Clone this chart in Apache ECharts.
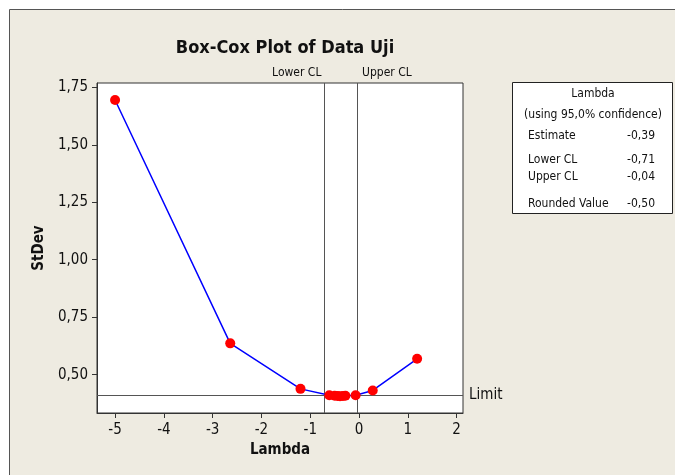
<!DOCTYPE html>
<html>
<head>
<meta charset="utf-8">
<script src="https://cdn.jsdelivr.net/npm/echarts@6/dist/echarts.min.js"></script>
<style>
  html, body { margin: 0; padding: 0; background: #fff; }
  #main { width: 675px; height: 475px; }
</style>
</head>
<body>
<div id="main"></div>
<script>
// values
var lambdaVals = [-5, -2.64, -1.2, -0.61, -0.5, -0.44, -0.39, -0.33, -0.28, -0.07, 0.28, 1.19];
var stdevVals = [1.695, 0.636, 0.438, 0.410, 0.408, 0.407, 0.406, 0.407, 0.408, 0.410, 0.431, 0.569];
var xTicks = [-5, -4, -3, -2, -1, 0, 1, 2];
var yTicks = [0.5, 0.75, 1.0, 1.25, 1.5, 1.75];
var lowerCL = -0.71;
var upperCL = -0.04;
var limit = 0.409;
var infoLabels = ['Estimate', 'Lower CL', 'Upper CL', 'Rounded Value'];
var infoValues = ['-0,39', '-0,71', '-0,04', '-0,50'];

var font = "'DejaVu Sans Condensed', 'DejaVu Sans', sans-serif";

var chart = echarts.init(document.getElementById('main'));

var points = lambdaVals.map(function (x, i) { return [x, stdevVals[i]]; });

function fmtComma(v) {
  return v.toFixed(2).replace('.', ',');
}

var infoY = [136, 160, 177, 204];
var graphics = [
  { type: 'rect', z: -10, shape: { x: 9.5, y: 9.5, width: 700, height: 500 },
    style: { fill: '#EEEBE1', stroke: '#555', lineWidth: 1 } },
  { type: 'rect', z: 1, shape: { x: 512.5, y: 82.5, width: 160, height: 131 },
    style: { fill: '#fff', stroke: '#222', lineWidth: 1 } },
  { type: 'text', z: 2, x: 593, y: 94,
    style: { text: 'Lambda', font: '12px ' + font, fill: '#111', align: 'center', verticalAlign: 'middle' } },
  { type: 'text', z: 2, x: 593, y: 115,
    style: { text: '(using 95,0% confidence)', font: '12px ' + font, fill: '#111', align: 'center', verticalAlign: 'middle' } }
];
infoLabels.forEach(function (t, i) {
  graphics.push({ type: 'text', z: 2, x: 528, y: infoY[i],
    style: { text: t, font: '12px ' + font, fill: '#111', align: 'left', verticalAlign: 'middle' } });
  graphics.push({ type: 'text', z: 2, x: 655, y: infoY[i],
    style: { text: infoValues[i], font: '12px ' + font, fill: '#111', align: 'right', verticalAlign: 'middle' } });
});

var option = {
  backgroundColor: '#fff',
  animation: false,
  title: {
    text: 'Box-Cox Plot of Data Uji',
    left: 280,
    top: 34,
    textAlign: 'center',
    textStyle: { fontFamily: font, fontWeight: 'bold', fontSize: 18, color: '#111' }
  },
  graphic: graphics,
  grid: {
    left: 97, top: 83, right: 212, bottom: 62,
    show: true, backgroundColor: '#fff', borderColor: '#333', borderWidth: 1
  },
  xAxis: {
    type: 'value',
    min: -5.37,
    max: 2.13,
    name: 'Lambda',
    nameLocation: 'middle',
    nameGap: 30,
    nameTextStyle: { fontFamily: font, fontWeight: 'bold', fontSize: 15, color: '#111' },
    splitLine: { show: false },
    axisLine: { show: true, onZero: false, lineStyle: { color: '#333' } },
    axisTick: { show: true, inside: false, length: 5, lineStyle: { color: '#333' }, customValues: xTicks },
    axisLabel: { fontFamily: font, fontSize: 15, color: '#111', margin: 10, customValues: xTicks,
      formatter: function (v) { return String(v); } }
  },
  yAxis: {
    type: 'value',
    min: 0.333,
    max: 1.769,
    name: 'StDev',
    nameLocation: 'middle',
    nameGap: 49,
    nameTextStyle: { fontFamily: font, fontWeight: 'bold', fontSize: 15, color: '#111' },
    splitLine: { show: false },
    axisLine: { show: true, onZero: false, lineStyle: { color: '#333' } },
    axisTick: { show: true, inside: false, length: 5, lineStyle: { color: '#333' }, customValues: yTicks },
    axisLabel: { fontFamily: font, fontSize: 15, color: '#111', margin: 9, customValues: yTicks,
      formatter: fmtComma }
  },
  series: [{
    type: 'line',
    data: points,
    symbol: 'circle',
    symbolSize: 10,
    lineStyle: { color: '#0000FF', width: 1.5 },
    itemStyle: { color: '#FF0000' },
    z: 5,
    markLine: {
      silent: true,
      symbol: 'none',
      z: 3,
      lineStyle: { type: 'solid', color: '#555', width: 1 },
      data: [
        { xAxis: lowerCL, label: { show: true, position: 'end', formatter: 'Lower CL', align: 'right',
          fontFamily: font, fontSize: 12, color: '#111', distance: 4, padding: [0, 3, 0, 0] } },
        { xAxis: upperCL, label: { show: true, position: 'end', formatter: 'Upper CL', align: 'left',
          fontFamily: font, fontSize: 12, color: '#111', distance: 4, padding: [0, 0, 0, 5] } },
        { yAxis: limit, label: { show: true, position: 'end', formatter: 'Limit',
          fontFamily: font, fontSize: 15, color: '#111', distance: 6 } }
      ]
    }
  }]
};

chart.setOption(option);
</script>
</body>
</html>
